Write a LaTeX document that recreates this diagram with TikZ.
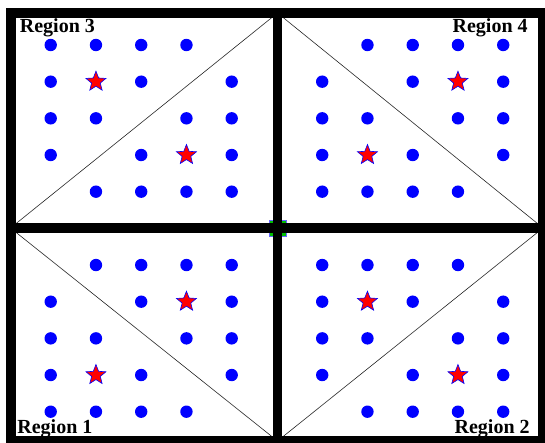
\documentclass[tikz,border=0pt]{standalone}
\usepackage{fontspec}
\setmainfont{Liberation Serif}
\usetikzlibrary{shapes.geometric}
\tikzset{every picture/.style={line width=0.75pt}}
\tikzset{
  bluedot/.style={fill=blue},
  redstar/.style={star, star points=5, star point ratio=2.3, fill=red, draw=blue,
    line width=0.6pt, inner sep=0pt, minimum size=21pt},
  regionlabel/.style={font=\bfseries\fontsize{20}{24}\selectfont, inner sep=0pt},
  thinline/.style={black!85, line width=0.6pt}
}

\begin{document}
\begin{tikzpicture}[x=1pt,y=-1pt]
    \useasboundingbox (0,0) rectangle (545,443);
    \clip (0,0) rectangle (545,443);

    % frame corners and middle
    \coordinate (tl) at (10.5,13);
    \coordinate (tm) at (277.5,13);
    \coordinate (tr) at (543,13);
    \coordinate (ml) at (10.5,228);
    \coordinate (mm) at (277.5,228);
    \coordinate (mr) at (543,228);
    \coordinate (bl) at (10.5,441);
    \coordinate (bm) at (277.5,441);
    \coordinate (br) at (543,441);

    % diagonals
    \draw[thinline] (ml) -- (tm);
    \draw[thinline] (tm) -- (mr);
    \draw[thinline] (ml) -- (bm);
    \draw[thinline] (bm) -- (mr);

    % centre marker
    \draw[draw=blue!60, fill=green!75!black, line width=0.6pt] (269,220.5) rectangle (286,236);

    % grid of dots (row / columns)
    \begin{scope}[shift={(50.7,45)}, x=45.25pt, y=-36.67pt]
        \foreach \r/\cs in {0/{0,1,2,3,7,8,9,10}, 1/{0,2,4,6,8,10}, 2/{0,1,3,4,6,7,9,10},
                            3/{0,2,4,6,8,10}, 4/{1,2,3,4,6,7,8,9}, 6/{1,2,3,4,6,7,8,9},
                            7/{0,2,4,6,8,10}, 8/{0,1,3,4,6,7,9,10}, 9/{0,2,4,6,8,10},
                            10/{0,1,2,3,7,8,9,10}} {
            \foreach \c in \cs {
                \fill[bluedot] (\c,\r) circle (6.2pt);
            }
        }
        % stars
        \node[redstar] (s1) at (1,1) {};
        \node[redstar] (s2) at (3,3) {};
        \node[redstar] (s3) at (9,1) {};
        \node[redstar] (s4) at (7,3) {};
        \node[redstar] (s5) at (3,7) {};
        \node[redstar] (s6) at (1,9) {};
        \node[redstar] (s7) at (7,7) {};
        \node[redstar] (s8) at (9,9) {};
    \end{scope}

    % region labels
    \node[regionlabel, anchor=base west] (reg3) at (19.5,32.5) {Region 3};
    \node[regionlabel, anchor=base east] (reg4) at (528,33) {Region 4};
    \node[regionlabel, anchor=base west] (reg1) at (17,433) {Region 1};
    \node[regionlabel, anchor=base east] (reg2) at (530,433) {Region 2};

    % thick frame
    \draw[line width=10pt] (tl) rectangle (br);
    \draw[line width=9pt] (tm) -- (bm);
    \draw[line width=9.5pt] (ml) -- (mr);
\end{tikzpicture}
\end{document}
